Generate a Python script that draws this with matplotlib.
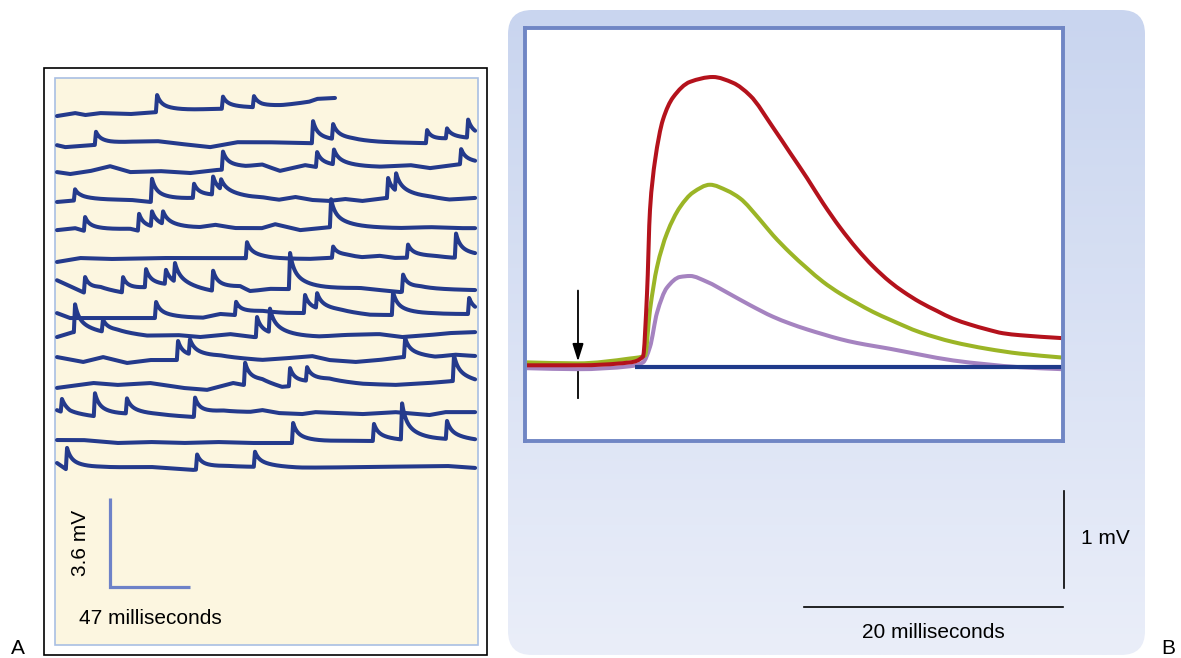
import numpy as np
import matplotlib.pyplot as plt
from matplotlib.patches import Rectangle, FancyBboxPatch, PathPatch
from matplotlib.path import Path
from matplotlib.colors import LinearSegmentedColormap

plt.rcParams['font.family'] = ['Liberation Sans', 'DejaVu Sans']

# ---------------- panel A : spontaneous miniature potentials (ms, mV) ----------------
row_levels = [21.42, 20.24, 19.15, 17.94, 16.80, 15.51, 14.45, 13.32, 12.51, 11.54, 10.53, 9.39, 8.22, 7.17]
row_ends = [163.3] + [245.6] * 13

drift_t = [
    [0, 10.6, 16.5, 25.3, 42.9, 58.8, 92, 113, 120.4, 132, 148, 152.8, 163.3],
    [0, 4.7, 19.4, 31.1, 44.8, 58.8, 74, 89.9, 105.8, 123, 149.8, 173.3, 189.8, 217.4, 229.1, 245.6],
    [0, 7.6, 19.4, 31.1, 42.9, 60.5, 78.1, 92.8, 110.8, 120.4, 131, 145.7, 152.8, 189.8, 207.4, 219.1, 236.8, 245.6],
    [0, 13.5, 42.9, 54.6, 78.1, 91.1, 113.4, 120.4, 130.4, 139.8, 149.8, 159.6, 169.2, 179.2, 192.7, 218.6, 230.3, 245.6],
    [0, 10.6, 16.5, 42.9, 48.2, 84, 92.8, 104.6, 120.4, 128.1, 142.8, 160.4, 201.5, 219.1, 236.8, 245.6],
    [0, 13.5, 31.1, 60.5, 107.5, 126.9, 148.6, 169.2, 179.2, 189.2, 198.6, 222.1, 232.1, 245.6],
    [0, 16.5, 25.3, 38.2, 52.3, 64, 91.7, 107.5, 113.4, 125.1, 136.9, 178, 201.5, 213.3, 245.6],
    [0, 7.6, 54.6, 85.8, 95.8, 104.6, 120.4, 134, 145.1, 166.3, 183.9, 196.8, 219.1, 241.5, 245.6],
    [0, 9.4, 27, 35.3, 52.9, 70.5, 84, 101.6, 115.2, 153.9, 169.2, 189.2, 202.7, 218.6, 230.3, 245.6],
    [0, 15.3, 27, 41.1, 54.6, 71.1, 95.8, 120.4, 136.3, 149.8, 159.8, 175.1, 189.2, 202.7, 222.1, 233.8, 245.6],
    [0, 21.2, 35.3, 54.6, 74, 88.1, 103.4, 109.3, 120.4, 132.2, 159.8, 179.2, 198.6, 218.6, 232.1, 245.6],
    [0, 7.6, 22.3, 41.1, 58.8, 79.9, 97.5, 113.4, 120.4, 130.4, 143.9, 151.6, 179.2, 198.6, 218.6, 228, 245.6],
    [0, 15.3, 35.3, 54.6, 74, 93.9, 113.4, 139.2, 169.2, 185.1, 201.5, 227.9, 245.6],
    [0, 5.9, 25.3, 54.6, 79.9, 99.9, 115.2, 142.8, 229.1, 245.6],
]
drift_v = [
    [0, 0.12, 0.04, 0.12, 0.08, 0.16, 0.28, 0.32, 0.32, 0.4, 0.57, 0.69, 0.73],
    [0, -0.08, 0, 0.04, 0.12, 0.16, 0.04, -0.08, 0.12, 0.12, 0.08, 0.16, 0.12, 0.08, 0.2, 0.24],
    [0, -0.08, 0.04, 0.24, 0, 0.04, -0.04, 0.08, 0.16, 0.28, 0.04, 0.28, 0.2, 0.2, 0.28, 0.16, 0.32, 0.32],
    [0, 0.08, 0.08, 0, 0.12, 0.2, 0.16, 0.16, 0.08, 0.2, 0.08, 0.04, 0.12, 0.04, 0.16, 0.16, 0.08, 0.16],
    [0, 0.08, -0.04, 0.04, -0.04, 0.08, 0.2, 0.08, 0.08, 0.24, 0, 0.12, 0.08, 0.12, 0.08, 0.08],
    [0, 0.16, 0.12, 0.16, 0.16, 0.12, 0.12, 0.2, 0.16, 0.24, 0.16, 0.2, 0.16, 0.2],
    [0.32, -0.2, -0.08, -0.2, -0.04, 0.04, -0.16, 0, -0.16, -0.04, -0.04, 0, -0.16, -0.04, -0.08],
    [0.12, -0.08, -0.08, -0.08, 0.08, 0.04, 0.16, 0.12, 0.12, 0.16, 0.04, 0.04, 0.08, 0.08, 0.08],
    [-0.04, 0.16, 0.08, 0.12, 0, 0.04, -0.04, 0.08, -0.04, -0.04, 0.04, 0.08, -0.04, 0.04, 0.12, 0.16],
    [0.12, -0.08, 0.12, -0.12, 0, 0, 0.12, 0, 0.08, 0.16, 0, -0.08, 0, 0.12, 0.08, 0.2, 0.16],
    [-0.12, 0.08, 0, 0.08, -0.12, -0.2, 0.08, 0, 0.08, -0.12, 0.16, 0.04, 0, 0.08, 0.16, 0.08],
    [0.12, -0.08, -0.16, -0.08, -0.08, -0.16, 0.04, 0.04, 0.12, 0, -0.04, 0.04, -0.04, 0.04, -0.08, 0.04, 0.04],
    [0.08, 0.08, -0.04, 0, -0.04, 0, -0.04, -0.04, 0.04, 0.04, 0.04, 0.08, 0.04],
    [0.2, -0.08, 0, 0.04, -0.08, 0.04, 0.04, 0, 0.08, 0],
]
event_t = [
    [58.8, 97.5, 115.7],
    [22.9, 150.4, 162.2, 217.4, 229.1, 241.5],
    [97.5, 152.8, 162.7, 237.4],
    [10.6, 55.8, 80.5, 91.7, 96.4, 194.5, 199.2],
    [16.5, 48.2, 55.8, 62.3, 161],
    [111.6, 162.2, 206.2, 234.4],
    [16.5, 38.8, 52.3, 64, 69.3, 91.7, 136.9, 203.3],
    [58.2, 105.2, 145.7, 152.8, 197.4, 242.1],
    [10.6, 27, 117.5, 125.1],
    [71.1, 78.1, 204.5],
    [110.5, 136.9, 146.9, 233.2],
    [2.9, 22.3, 41.1, 81.1],
    [138.7, 186.2, 202.7, 229.1],
    [5.9, 82.3, 116.3],
]
event_amp = [
    [0.69, 0.49, 0.45],
    [0.53, 0.89, 0.6, 0.53, 0.4, 0.73],
    [0.73, 0.61, 0.6, 0.61],
    [0.45, 0.93, 0.57, 0.73, 0.4, 0.81, 0.7],
    [0.57, 0.69, 0.6, 0.5, 1.13],
    [0.65, 0.45, 0.53, 0.97],
    [0.65, 0.61, 0.73, 0.57, 0.75, 0.81, 1.46, 0.69],
    [0.65, 0.53, 0.73, 0.6, 0.93, 0.65],
    [1.13, 0.49, 0.81, 0.95],
    [0.77, 0.6, 0.77],
    [0.89, 0.73, 0.55, 1.05],
    [0.53, 0.93, 0.61, 0.77],
    [0.81, 0.69, 1.46, 0.73],
    [0.89, 0.61, 0.61],
]
scaleA_ms, scaleA_mv = 47, 3.6
scaleA_origin = (31.1, 2.35)

# ---------------- panel B : end-plate potentials (ms after stimulus, mV) ----------------
red_t = [-3.94, 0, 4.02, 5.02, 5.33, 5.56, 5.95, 6.56, 7.34, 8.65, 10.42, 11.97, 13.28, 15.06, 16.37,
         17.68, 18.92, 20.23, 21.54, 22.78, 24.09, 25.10, 26.41, 27.72, 28.96, 30.27, 31.58, 32.82, 34.13, 37.37]
red_v = [0.02, 0.02, 0.05, 0.11, 0.76, 1.62, 2.13, 2.55, 2.78, 2.94, 2.99, 2.93, 2.80, 2.47, 2.21,
         1.95, 1.69, 1.44, 1.22, 1.04, 0.88, 0.78, 0.67, 0.58, 0.50, 0.44, 0.39, 0.35, 0.33, 0.30]
green_t = [-3.94, 0, 4.02, 5.17, 5.56, 6.10, 6.87, 7.88, 8.88, 10.19, 11.51, 12.51, 14.05, 15.06, 16.37,
           17.68, 18.92, 20.23, 21.54, 22.78, 24.09, 26.41, 28.96, 31.58, 34.13, 37.37]
green_v = [0.05, 0.04, 0.09, 0.12, 0.59, 1.03, 1.38, 1.65, 1.80, 1.88, 1.82, 1.74, 1.52, 1.36, 1.18,
           1.02, 0.88, 0.76, 0.66, 0.57, 0.49, 0.36, 0.26, 0.19, 0.14, 0.10]
purple_t = [-3.94, 0, 4.02, 5.02, 5.56, 6.10, 6.87, 7.88, 8.65, 9.96, 11.51, 13.28, 15.06, 16.37, 17.68,
            18.92, 20.23, 21.54, 22.78, 24.09, 26.41, 28.96, 31.58, 34.13, 37.37]
purple_v = [-0.01, -0.02, 0.01, 0.05, 0.21, 0.56, 0.82, 0.93, 0.94, 0.88, 0.77, 0.64, 0.52, 0.45, 0.39,
            0.34, 0.29, 0.25, 0.22, 0.19, 0.13, 0.07, 0.03, 0.0, -0.02]
base_t = [4.4, 37.37]
base_v = [0, 0]
stim_t = 0
scaleB_ms, scaleB_mv = 20, 1
scaleB_x0, scaleB_y0 = 17.45, -2.47      # horizontal bar start
scaleB_vx, scaleB_vy0 = 37.53, -2.27     # vertical bar

TRACE = '#243a8c'

W, H = 1181, 658
fig = plt.figure(figsize=(W / 100, H / 100), dpi=100)


def px_axes(x0, y0, x1, y1):
    return fig.add_axes([x0 / W, 1 - y1 / H, (x1 - x0) / W, (y1 - y0) / H])


bg = fig.add_axes([0, 0, 1, 1])
bg.axis('off')

# panel A frames
bg.add_patch(Rectangle((44, 68), 443, 587, fill=False, ec='black', lw=1.2))
bg.add_patch(Rectangle((55, 78), 423, 567, fc='#fcf6e0', ec='#a9bfe3', lw=1.2))

# panel B rounded gradient background
rb = FancyBboxPatch((508, 10), 637, 645, boxstyle='round,pad=0,rounding_size=24',
                    fc='none', ec='none')
bg.add_patch(rb)
cmap = LinearSegmentedColormap.from_list('bgB', ['#c9d5ef', '#eaeef9'])
im = bg.imshow(np.linspace(0, 1, 256)[:, None], cmap=cmap, aspect='auto',
               extent=(508, 1145, 655, 10), origin='upper', interpolation='bilinear')
im.set_clip_path(rb)
bg.set_xlim(0, W)
bg.set_ylim(H, 0)

bg.text(18, 648, 'A', fontsize=15, ha='center', va='center')
bg.text(1168, 648, 'B', fontsize=15, ha='center', va='center')
bg.text(80, 543, '3.6 mV', fontsize=15, rotation=90, ha='center', va='center')
bg.text(150, 618, '47 milliseconds', fontsize=15, ha='center', va='center')
bg.text(1105, 539, '1 mV', fontsize=15, ha='center', va='center')
bg.text(933, 633, '20 milliseconds', fontsize=15, ha='center', va='center')

# ---- panel A traces
axA = px_axes(55, 78, 478, 645)
axA.axis('off')
for lev, end, dt, dv, et, ea in zip(row_levels, row_ends, drift_t, drift_v, event_t, event_amp):
    tt = np.arange(0, end + 0.05, 0.1)
    v = lev + np.interp(tt, dt, dv)
    for t0, a in zip(et, ea):
        d = tt - t0
        rise = np.clip((d + 0.7) / 0.7, 0, 1)
        decay = np.where(d > 0, 0.45 * np.exp(-d / 2.0) + 0.55 * np.exp(-d / 9.0), 1.0)
        v = v + a * rise * decay
    axA.plot(tt, v, color=TRACE, lw=2.9, solid_capstyle='round', solid_joinstyle='round')

sx, sy = scaleA_origin
axA.plot([sx, sx, sx + scaleA_ms], [sy + scaleA_mv, sy, sy], color='#6e82c8', lw=2.3,
         solid_joinstyle='miter', solid_capstyle='butt')
axA.set_xlim(-1.18, 247.3)
axA.set_ylim(0, 22.96)

# ---- panel B
axB = px_axes(524.5, 27.5, 1063, 441)
axB.set_facecolor('white')
for s in axB.spines.values():
    s.set_color('#7086c4')
    s.set_linewidth(2.8)
axB.set_xticks([])
axB.set_yticks([])
axB.set_xlim(-4.13, 37.45)
axB.set_ylim(-0.76, 3.50)


def smooth_path(x, y):
    # monotone cubic (Fritsch-Carlson) through the read points, drawn as bezier segments
    x = np.asarray(x, float)
    y = np.asarray(y, float)
    h = np.diff(x)
    d = np.diff(y) / h
    m = np.zeros_like(y)
    m[0], m[-1] = d[0], d[-1]
    for i in range(1, len(x) - 1):
        if d[i - 1] * d[i] > 0:
            w1 = 2 * h[i] + h[i - 1]
            w2 = h[i] + 2 * h[i - 1]
            m[i] = (w1 + w2) / (w1 / d[i - 1] + w2 / d[i])
    verts = [(x[0], y[0])]
    codes = [Path.MOVETO]
    for i in range(len(x) - 1):
        verts += [(x[i] + h[i] / 3, y[i] + m[i] * h[i] / 3),
                  (x[i + 1] - h[i] / 3, y[i + 1] - m[i + 1] * h[i] / 3),
                  (x[i + 1], y[i + 1])]
        codes += [Path.CURVE4] * 3
    return Path(verts, codes)


axB.plot(base_t, base_v, color='#1f3a8a', lw=3.0, solid_capstyle='butt')
for xs, ys, col in [(purple_t, purple_v, '#a583c0'), (green_t, green_v, '#9bb526'),
                    (red_t, red_v, '#b4121c')]:
    axB.add_patch(PathPatch(smooth_path(xs, ys), fill=False, ec=col, lw=2.9,
                            capstyle='butt', joinstyle='round'))

axB.annotate('', xy=(stim_t, 0.06), xytext=(stim_t, 0.79),
             arrowprops=dict(arrowstyle='-|>,head_length=0.7,head_width=0.22',
                             color='black', lw=1.3, mutation_scale=15, shrinkA=0, shrinkB=0))
axB.plot([stim_t, stim_t], [-0.05, -0.32], color='black', lw=1.3)

axB.plot([scaleB_x0, scaleB_x0 + scaleB_ms], [scaleB_y0, scaleB_y0], color='black', lw=1.2,
         clip_on=False)
axB.plot([scaleB_vx, scaleB_vx], [scaleB_vy0, scaleB_vy0 + scaleB_mv], color='black', lw=1.2,
         clip_on=False)

fig.savefig('out.png', dpi=100)
